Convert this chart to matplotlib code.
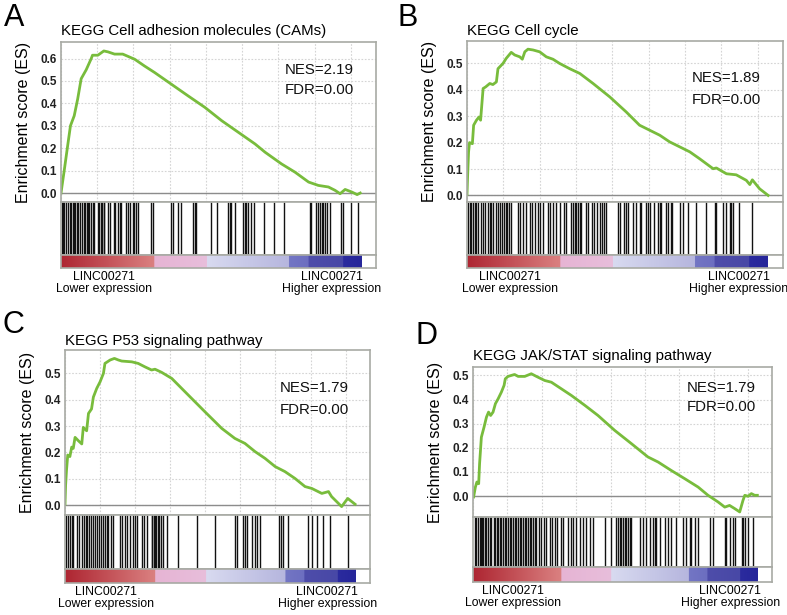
import numpy as np
import matplotlib
matplotlib.use('Agg')
from matplotlib import pyplot as plt
from matplotlib.colors import LinearSegmentedColormap
from matplotlib.ticker import MultipleLocator

plt.rcParams['font.family'] = ['Liberation Sans', 'DejaVu Sans']

# x = position in the ranked gene list (0..1000 axis units)
es_a_x = [0, 11, 21, 30, 42, 53, 64, 80, 96, 100, 117, 136, 149, 170, 196, 234, 265, 297,
          350, 403, 457, 510, 563, 616, 648, 700, 743, 786, 817, 849, 870, 886, 902, 924, 940, 950]
es_a_y = [0.0, 0.108, 0.21, 0.30, 0.345, 0.42, 0.51, 0.55, 0.60, 0.615, 0.615, 0.634, 0.63, 0.62,
          0.62, 0.597, 0.567, 0.538, 0.486, 0.434, 0.382, 0.323, 0.271, 0.219, 0.182, 0.13, 0.093,
          0.049, 0.034, 0.027, 0.012, -0.003, 0.016, 0.004, -0.007, 0.0]
hits_a = [2, 5, 11, 16, 21, 27, 32, 37, 40, 45, 51, 55, 61, 66, 72, 76, 81, 85, 90, 95, 101, 106,
          117, 122, 127, 130, 135, 138, 148, 154, 167, 172, 180, 186, 191, 207, 214, 220, 228, 233,
          239, 246, 286, 293, 350, 355, 371, 380, 419, 424, 429, 477, 496, 530, 535, 541, 551, 578,
          583, 588, 594, 604, 613, 645, 676, 708, 790, 795, 811, 816, 822, 827, 832, 837, 846, 853,
          890, 896, 922, 943]

es_b_x = [0, 2, 5, 8, 17, 21, 30, 38, 43, 51, 59, 72, 82, 93, 98, 114, 124, 140, 151, 167, 175,
          183, 193, 209, 230, 251, 272, 293, 325, 357, 399, 452, 504, 546, 578, 610, 641, 673, 705,
          736, 779, 789, 821, 852, 884, 895, 903, 926, 953]
es_b_y = [0.003, 0.076, 0.165, 0.20, 0.196, 0.266, 0.285, 0.297, 0.285, 0.405, 0.411, 0.424, 0.42,
          0.43, 0.48, 0.50, 0.519, 0.542, 0.532, 0.525, 0.516, 0.544, 0.554, 0.551, 0.544, 0.525,
          0.516, 0.50, 0.48, 0.462, 0.424, 0.373, 0.316, 0.266, 0.247, 0.228, 0.203, 0.184, 0.165,
          0.139, 0.101, 0.104, 0.082, 0.078, 0.057, 0.041, 0.059, 0.025, 0.0]
hits_b = [3, 8, 14, 19, 24, 30, 35, 45, 51, 56, 66, 72, 77, 82, 91, 98, 105, 112, 116, 122, 128,
          133, 138, 161, 169, 177, 188, 198, 207, 214, 225, 232, 241, 256, 264, 272, 283, 293, 306,
          314, 330, 335, 341, 346, 351, 357, 362, 376, 383, 397, 401, 411, 420, 428, 435, 439, 478,
          483, 496, 502, 510, 525, 534, 546, 552, 568, 573, 580, 591, 605, 610, 615, 631, 636, 644,
          650, 673, 684, 699, 724, 755, 784, 789, 810, 821, 831, 837, 842, 861, 903]

es_c_x = [0, 2, 5, 9, 16, 22, 27, 33, 44, 55, 60, 71, 77, 87, 93, 104, 115, 126, 131, 148, 162,
          175, 186, 219, 240, 262, 284, 295, 317, 350, 404, 459, 514, 557, 590, 623, 656, 689, 721,
          754, 787, 809, 842, 864, 874, 907, 927, 940, 951]
es_c_y = [0.003, 0.076, 0.133, 0.19, 0.184, 0.22, 0.215, 0.257, 0.244, 0.232, 0.295, 0.282, 0.348,
          0.365, 0.41, 0.443, 0.468, 0.50, 0.538, 0.551, 0.557, 0.551, 0.547, 0.544, 0.538, 0.525,
          0.513, 0.516, 0.504, 0.481, 0.418, 0.354, 0.291, 0.253, 0.234, 0.203, 0.177, 0.146, 0.127,
          0.101, 0.07, 0.063, 0.044, 0.051, 0.032, -0.006, 0.025, 0.013, 0.003]
hits_c = [2, 9, 16, 22, 27, 38, 46, 55, 63, 68, 73, 80, 85, 93, 98, 106, 111, 118, 126, 131, 137,
          142, 151, 158, 180, 186, 197, 202, 213, 224, 230, 235, 254, 260, 268, 284, 286, 291, 295,
          299, 304, 308, 315, 322, 333, 372, 432, 492, 557, 563, 585, 590, 596, 612, 623, 628, 639,
          700, 708, 716, 732, 798, 809, 825, 847, 869, 929]

es_d_x = [2, 8, 13, 19, 22, 28, 37, 45, 52, 59, 67, 75, 84, 95, 104, 108, 117, 128, 139, 151, 173,
          195, 212, 240, 262, 295, 329, 374, 418, 474, 530, 585, 619, 663, 708, 753, 786, 820, 842,
          858, 875, 892, 903, 909, 920, 931, 942, 951]
es_d_y = [-0.004, 0.037, 0.058, 0.051, 0.134, 0.244, 0.286, 0.327, 0.348, 0.334, 0.348, 0.383,
          0.403, 0.431, 0.459, 0.486, 0.496, 0.50, 0.504, 0.496, 0.496, 0.507, 0.496, 0.479, 0.472,
          0.445, 0.417, 0.376, 0.334, 0.272, 0.217, 0.162, 0.141, 0.106, 0.072, 0.037, 0.003,
          -0.025, -0.046, -0.039, -0.052, -0.066, -0.018, 0.003, -0.001, 0.01, 0.003, 0.003]
hits_d = [6, 11, 17, 22, 26, 30, 33, 39, 45, 50, 56, 61, 70, 75, 79, 84, 89, 95, 100, 106, 112,
          117, 123, 128, 134, 139, 145, 151, 156, 162, 167, 173, 178, 184, 190, 195, 201, 206, 212,
          220, 229, 237, 245, 256, 264, 273, 282, 295, 301, 318, 327, 335, 346, 357, 368, 379, 390,
          401, 440, 460, 479, 485, 491, 496, 502, 507, 513, 518, 524, 530, 558, 569, 580, 591, 602,
          608, 613, 624, 641, 652, 663, 680, 702, 714, 725, 730, 741, 753, 792, 803, 842, 847, 859,
          870, 875, 898, 903, 909, 920, 937]

letters = ['A', 'B', 'C', 'D']
titles = ['KEGG Cell adhesion molecules (CAMs)', 'KEGG Cell cycle',
          'KEGG P53 signaling pathway', 'KEGG JAK/STAT signaling pathway']
nes = ['NES=2.19', 'NES=1.89', 'NES=1.79', 'NES=1.79']
fdr = ['FDR=0.00', 'FDR=0.00', 'FDR=0.00', 'FDR=0.00']
yticks = [[0.0, 0.1, 0.2, 0.3, 0.4, 0.5, 0.6], [0.0, 0.1, 0.2, 0.3, 0.4, 0.5],
          [0.0, 0.1, 0.2, 0.3, 0.4, 0.5], [0.0, 0.1, 0.2, 0.3, 0.4, 0.5]]
ylims = [(-0.04, 0.674), (-0.025, 0.585), (-0.038, 0.589), (-0.087, 0.535)]
list_end = [953, 950, 953, 950]
es_x = [es_a_x, es_b_x, es_c_x, es_d_x]
es_y = [es_a_y, es_b_y, es_c_y, es_d_y]
hits = [hits_a, hits_b, hits_c, hits_d]

# ranked-list colour bar (red = low, blue = high)
cb_stops = [(0.0, '#ae2632'), (0.306, '#da8080'), (0.307, '#e6b4d4'), (0.485, '#e8bedb'),
            (0.486, '#d8daf0'), (0.757, '#b6b6de'), (0.758, '#7376c4'), (0.824, '#6c6ec0'),
            (0.825, '#4e4daa'), (0.94, '#4848a6'), (0.941, '#2b2b9e'), (1.0, '#26269a')]
cmap = LinearSegmentedColormap.from_list('rank', cb_stops)

W, H = 787, 615
# pixel layout: left, right, es_top, es_bottom, hits_bottom, cb_bottom
layout = [(61, 376, 42, 202, 255, 268), (467, 783, 41, 202, 255, 268),
          (65, 370, 350, 515, 569, 583), (473, 772, 367, 517, 567, 582)]
letter_pos = [(4, 26), (398, 26), (3, 333), (416, 344)]
title_y = [35, 35, 345, 360]
nes_pos = [(0.71, 0.825, 0.70), (0.712, 0.77, 0.634), (0.705, 0.77, 0.636), (0.716, 0.86, 0.733)]

frame = '#a8aaa4'
grid_c = '#d4d4d4'

fig = plt.figure(figsize=(W / 100, H / 100), dpi=100)


def rect(l, r, t, b):
    return [l / W, 1 - b / H, (r - l) / W, (b - t) / H]


for i in range(4):
    l, r, t, m, hb, cb = layout[i]
    ax = fig.add_axes(rect(l, r, t, m))
    axh = fig.add_axes(rect(l, r, m, hb))
    axc = fig.add_axes(rect(l, r, hb, cb))

    ax.set_xlim(0, 1000)
    ax.set_ylim(*ylims[i])
    ax.xaxis.set_major_locator(MultipleLocator(115))
    ax.set_yticks(yticks[i])
    ax.set_yticklabels(['%.1f' % v for v in yticks[i]], fontsize=8.5, fontweight='bold',
                       color='#222222')
    ax.tick_params(axis='both', length=0, pad=3)
    ax.tick_params(axis='x', labelbottom=False)
    ax.grid(True, color=grid_c, linestyle=(0, (1.5, 1.5)), linewidth=0.8)
    ax.axhline(0, color='#8c8c8c', linewidth=1.0)
    ax.plot(es_x[i], es_y[i], color='#78bc3c', linewidth=2.0, solid_joinstyle='round')
    ax.set_ylabel('Enrichment score (ES)', fontsize=11.5)
    ax.yaxis.set_label_coords(-30 / (r - l), 0.5)
    ax.text(nes_pos[i][0], nes_pos[i][1], nes[i], transform=ax.transAxes, fontsize=10.8,
            va='center', ha='left', color='#111111')
    ax.text(nes_pos[i][0], nes_pos[i][2], fdr[i], transform=ax.transAxes, fontsize=10.8,
            va='center', ha='left', color='#111111')

    axh.set_xlim(0, 1000)
    axh.set_ylim(0, 1)
    axh.vlines(hits[i], 0, 1, color='#111111', linewidth=1.0)
    axh.set_xticks([])
    axh.set_yticks([])

    axc.imshow(np.linspace(0, 1, 400)[None, :], cmap=cmap, aspect='auto',
               extent=[0, list_end[i], 0, 1])
    axc.set_xlim(0, 1000)
    axc.set_ylim(0, 1)
    axc.set_xticks([])
    axc.set_yticks([])

    for a in (ax, axh, axc):
        for s in a.spines.values():
            s.set_color(frame)
            s.set_linewidth(1.2)

    fig.text(l / W, 1 - title_y[i] / H, titles[i], fontsize=10.8, ha='left', va='baseline')
    fig.text(letter_pos[i][0] / W, 1 - letter_pos[i][1] / H, letters[i], fontsize=22,
             ha='left', va='baseline')
    fig.text((l + 0.135 * (r - l)) / W, 1 - (cb + 3) / H, 'LINC00271\nLower expression',
             fontsize=8.8, ha='center', va='top', multialignment='center', linespacing=1.05)
    fig.text((l + 0.86 * (r - l)) / W, 1 - (cb + 3) / H, 'LINC00271\nHigher expression',
             fontsize=8.8, ha='center', va='top', multialignment='center', linespacing=1.05)

fig.savefig('out.png', dpi=100)
